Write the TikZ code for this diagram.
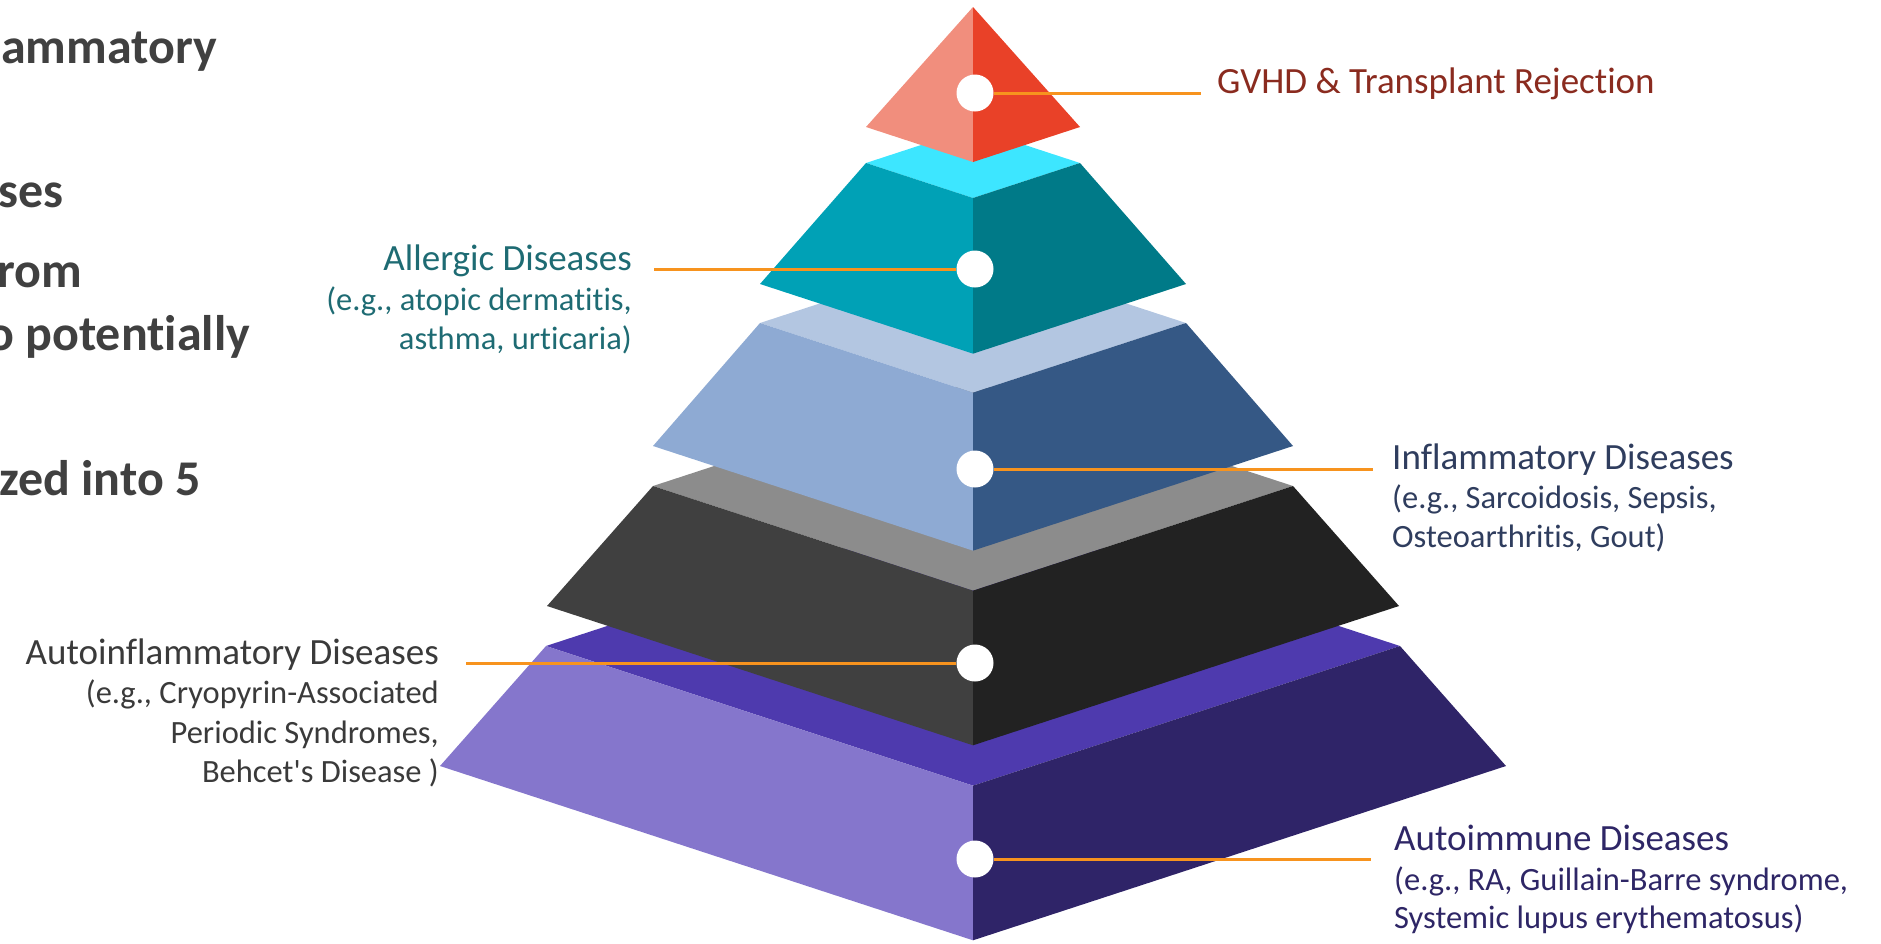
\documentclass[tikz,border=0pt]{standalone}
\usepackage{fontspec}
\setmainfont{Carlito}[Ligatures={CommonOff,TeXOff}]
% a kern splits the glyph run, which keeps "ti" as two letters
\newcommand{\nolig}{\kern0pt}
\definecolor{redL}{HTML}{F18E7D}
\definecolor{redR}{HTML}{E94128}
\definecolor{tealT}{HTML}{3DE6FF}
\definecolor{tealL}{HTML}{00A1B6}
\definecolor{tealR}{HTML}{007A88}
\definecolor{blueT}{HTML}{B3C6E1}
\definecolor{blueL}{HTML}{8EAAD3}
\definecolor{blueR}{HTML}{355885}
\definecolor{greyT}{HTML}{8C8C8C}
\definecolor{greyL}{HTML}{404040}
\definecolor{greyR}{HTML}{222222}
\definecolor{purpT}{HTML}{4E3AAE}
\definecolor{purpL}{HTML}{8576CC}
\definecolor{purpR}{HTML}{2F2468}
\definecolor{leader}{HTML}{F7931E}
\definecolor{txtGvhd}{HTML}{8A2B1F}
\definecolor{txtAllergic}{HTML}{1E6B73}
\definecolor{txtInflam}{HTML}{2F3D5E}
\definecolor{txtAutoinf}{HTML}{3A3A3A}
\definecolor{txtAutoimm}{HTML}{2E2666}
\definecolor{txtSlide}{HTML}{404040}

% axis of the pyramid and the slope of the isometric edges
\newcommand{\pyrX}{973}
\newcommand{\pyrS}{0.327}
% one frustum tier: top half-width, bottom half-width, top y, bottom y, top/left/right colours
\newcommand{\pyrtier}[7]{%
  \pgfmathsetmacro{\xa}{\pyrX-#1}\pgfmathsetmacro{\xb}{\pyrX+#1}%
  \pgfmathsetmacro{\xc}{\pyrX-#2}\pgfmathsetmacro{\xd}{\pyrX+#2}%
  \pgfmathsetmacro{\ytb}{#3-\pyrS*#1}\pgfmathsetmacro{\ytf}{#3+\pyrS*#1}%
  \pgfmathsetmacro{\ybf}{#4+\pyrS*#2}%
  \fill[#5] (\xa,#3) -- (\pyrX,\ytb) -- (\xb,#3) -- (\pyrX,\ytf) -- cycle;
  \fill[#6] (\xa,#3) -- (\pyrX,\ytf) -- (\pyrX,\ybf) -- (\xc,#4) -- cycle;
  \fill[#7] (\pyrX,\ytf) -- (\xb,#3) -- (\xd,#4) -- (\pyrX,\ybf) -- cycle;
}

\tikzset{
  dot/.style={circle, fill=white, minimum size=37pt, inner sep=0pt},
  leaderline/.style={draw=leader, line width=3pt},
  ttl/.style={inner sep=0pt, font=\fontsize{37}{44}\selectfont},
  sub/.style={inner sep=0pt, font=\fontsize{32.5}{39}\selectfont},
  slide/.style={inner sep=0pt, anchor=base west, text=txtSlide, font=\fontsize{50}{60}\selectfont\bfseries},
}

\begin{document}
\begin{tikzpicture}[x=1pt, y=-1pt]
\useasboundingbox (0,0) rectangle (1881,943);

% text of the slide running off the left edge
\node[slide] (s1) at (1,63) {ammatory};
\node[slide] (s2) at (-2,207) {ses};
\node[slide] (s3) at (-3,287) {rom};
\node[slide] (s4) at (-13,350) {o potent\nolig ially};
\node[slide] (s5) at (-1,495) {zed into 5};

% pyramid, bottom tier first
\pyrtier{427}{533}{646}{766}{purpT}{purpL}{purpR}
\pyrtier{320}{426}{486}{606}{greyT}{greyL}{greyR}
\pyrtier{213}{320}{323}{446}{blueT}{blueL}{blueR}
\pyrtier{107}{213}{163}{284}{tealT}{tealL}{tealR}
\fill[redL] (\pyrX,7) -- (866,127) -- (\pyrX,162) -- cycle;
\fill[redR] (\pyrX,7) -- (1080,127) -- (\pyrX,162) -- cycle;

% marker dots
\node[dot] (d1) at (975,93) {};
\node[dot] (d2) at (975,269) {};
\node[dot] (d3) at (975,469) {};
\node[dot] (d4) at (975,663) {};
\node[dot] (d5) at (975,859) {};

% leader ends
\coordinate (e1) at (1201,93);
\coordinate (e2) at (654,269);
\coordinate (e3) at (1373,469);
\coordinate (e4) at (466,663);
\coordinate (e5) at (1371,859);

\draw[leaderline] (d1) -- (e1);
\draw[leaderline] (d2) -- (e2);
\draw[leaderline] (d3) -- (e3);
\draw[leaderline] (d4) -- (e4);
\draw[leaderline] (d5) -- (e5);

% labels
\node[ttl, anchor=base west, text=txtGvhd] (l1) at (1217,93) {GVHD \& Transplant Rejection};

\node[ttl, anchor=base east, text=txtAllergic] (l2) at (632,270) {Allergic Diseases};
\node[sub, anchor=base east, text=txtAllergic] (l2a) at (632,310) {(e.g., atopic dermat\nolig it\nolig is,};
\node[sub, anchor=base east, text=txtAllergic] (l2b) at (632,349) {asthma, urt\nolig icaria)};

\node[ttl, anchor=base west, text=txtInflam] (l3) at (1392,469) {Inflammatory Diseases};
\node[sub, anchor=base west, text=txtInflam] (l3a) at (1392,508) {(e.g., Sarcoidosis, Sepsis,};
\node[sub, anchor=base west, text=txtInflam] (l3b) at (1392,547) {Osteoarthrit\nolig is, Gout)};

\node[ttl, anchor=base east, text=txtAutoinf] (l4) at (439,664) {Autoinflammatory Diseases};
\node[sub, anchor=base east, text=txtAutoinf] (l4a) at (439,703) {(e.g., Cryopyrin-Associated};
\node[sub, anchor=base east, text=txtAutoinf] (l4b) at (439,743) {Periodic Syndromes,};
\node[sub, anchor=base east, text=txtAutoinf] (l4c) at (439,782) {Behcet's Disease )};

\node[ttl, anchor=base west, text=txtAutoimm] (l5) at (1394,850) {Autoimmune Diseases};
\node[sub, anchor=base west, text=txtAutoimm] (l5a) at (1394,890) {(e.g., RA, Guillain-Barre syndrome,};
\node[sub, anchor=base west, text=txtAutoimm] (l5b) at (1394,928) {Systemic lupus erythematosus)};
\end{tikzpicture}
\end{document}
